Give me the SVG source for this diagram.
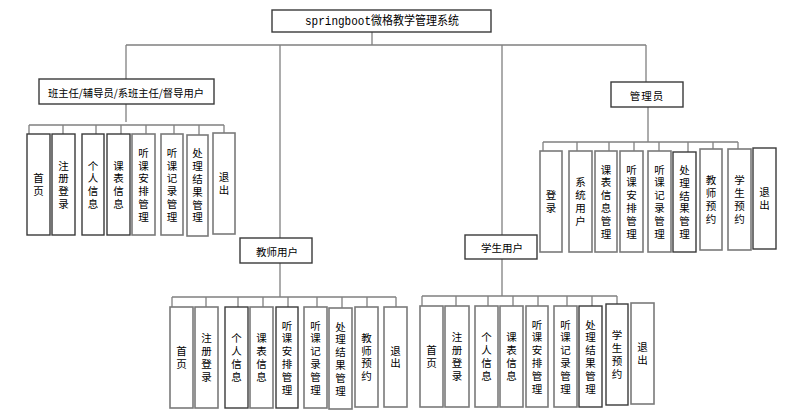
<svg xmlns="http://www.w3.org/2000/svg" width="798" height="420" viewBox="0 0 798 420">
<style>
.bg{fill:#fff}
.box{fill:#fff;stroke:#3a3a3a;stroke-width:1.4}
.gb{fill:#fff;stroke:#7a7a7a;stroke-width:1.6}
.ln{fill:none;stroke:#808080;stroke-width:1.3}
.t{font-family:"Noto Sans CJK SC","Liberation Sans",sans-serif;font-size:10.5px;fill:#000;text-anchor:middle;dominant-baseline:central}
.v{font-family:"Noto Sans CJK SC","Liberation Sans",sans-serif;font-size:10.5px;fill:#000;text-anchor:middle;writing-mode:vertical-rl;text-orientation:upright;letter-spacing:2.3px}
.title{font-family:"Liberation Mono","Noto Sans CJK SC",monospace;font-size:12px;fill:#000;dominant-baseline:central}
</style>
<rect class="bg" x="0" y="0" width="798" height="420"/>
<g id="connectors">
<path class="ln" d="M372 32V45M126 45H646M126 45V79M280 45V238M502 45V235M646 45V82"/>
<path class="ln" d="M126 104V122M29 125H224M29 125V134M63 125V134M96 125V134M121 125V134M146 125V134M174 125V134M199 125V135M224 125V133"/>
<path class="ln" d="M648 107V142M543 142H738M543 142V151M577 142V151M609 142V151M634 142V151M659 142V151M688 142V152M713 142V149M738 142V149"/>
<path class="ln" d="M280 263V297M172 297H396M172 297V307M206 297V307M238 297V307M263 297V307M288 297V307M317 297V307M342 297V308M367 297V307M396 297V307"/>
<path class="ln" d="M502 259V296M422 296H617M422 296V306M456 296V306M488 296V306M513 296V306M538 296V306M567 296V306M592 296V306M617 296V304"/>
</g>
<g id="root"><rect class="box" x="272" y="10" width="219" height="22"/><text class="title" x="305" y="21.5" textLength="154" lengthAdjust="spacingAndGlyphs">springboot微格教学管理系统</text></g>
<g id="headteacher"><rect class="box" x="39" y="79" width="175" height="25"/><text class="t" x="126" y="92" textLength="156" lengthAdjust="spacingAndGlyphs">班主任/辅导员/系班主任/督导用户</text></g>
<g id="admin"><rect class="box" x="611" y="82" width="72" height="25"/><text class="t" x="647" y="95" letter-spacing="1">管理员</text></g>
<g id="teacher"><rect class="box" x="240" y="238" width="72" height="25"/><text class="t" x="277" y="251">教师用户</text></g>
<g id="student"><rect class="box" x="465" y="235" width="72" height="24"/><text class="t" x="502" y="247">学生用户</text></g>

<!-- left group -->
<g id="l1"><rect class="box" x="27" y="134" width="23" height="101"/><text class="v" x="38.5" y="186">首页</text></g>
<g id="l2"><rect class="box" x="52" y="134" width="23" height="101"/><text class="v" x="63.5" y="186">注册登录</text></g>
<g id="l3"><rect class="box" x="82" y="134" width="22" height="101"/><text class="v" x="93" y="186">个人信息</text></g>
<g id="l4"><rect class="box" x="107" y="134" width="23" height="101"/><text class="v" x="118.5" y="186">课表信息</text></g>
<g id="l5"><rect class="gb" x="132" y="134" width="23" height="101"/><text class="v" x="143.5" y="186">听课安排管理</text></g>
<g id="l6"><rect class="gb" x="161" y="134" width="22" height="101"/><text class="v" x="172" y="186">听课记录管理</text></g>
<g id="l7"><rect class="gb" x="187" y="135" width="21" height="101"/><text class="v" x="197.5" y="186.5">处理结果管理</text></g>
<g id="l8"><rect class="gb" x="213" y="133" width="22" height="101"/><text class="v" x="224" y="184.5">退出</text></g>

<!-- admin group -->
<g id="a1"><rect class="gb" x="540" y="151" width="22" height="101"/><text class="v" x="551" y="202.7">登录</text></g>
<g id="a2"><rect class="gb" x="569" y="151" width="23" height="101"/><text class="v" x="580.5" y="202.7">系统用户</text></g>
<g id="a3"><rect class="gb" x="595" y="151" width="22" height="101"/><text class="v" x="606" y="202.7">课表信息管理</text></g>
<g id="a4"><rect class="gb" x="620" y="151" width="23" height="101"/><text class="v" x="631.5" y="202.7">听课安排管理</text></g>
<g id="a5"><rect class="gb" x="648" y="151" width="23" height="101"/><text class="v" x="659.5" y="202.7">听课记录管理</text></g>
<g id="a6"><rect class="box" x="673" y="152" width="23" height="100"/><text class="v" x="684.5" y="203.2">处理结果管理</text></g>
<g id="a7"><rect class="gb" x="700" y="149" width="22" height="101"/><text class="v" x="711" y="200.7">教师预约</text></g>
<g id="a8"><rect class="gb" x="728" y="149" width="23" height="101"/><text class="v" x="739.5" y="200.7">学生预约</text></g>
<g id="a9"><rect class="box" x="753" y="148" width="23" height="101"/><text class="v" x="764.5" y="199.7">退出</text></g>

<!-- teacher group -->
<g id="t1"><rect class="gb" x="170" y="307" width="23" height="101"/><text class="v" x="181.5" y="358.7">首页</text></g>
<g id="t2"><rect class="gb" x="195" y="307" width="23" height="101"/><text class="v" x="206.5" y="358.7">注册登录</text></g>
<g id="t3"><rect class="box" x="225" y="307" width="23" height="101"/><text class="v" x="236.5" y="358.7">个人信息</text></g>
<g id="t4"><rect class="gb" x="250" y="307" width="23" height="101"/><text class="v" x="261.5" y="358.7">课表信息</text></g>
<g id="t5"><rect class="box" x="276" y="307" width="22" height="101"/><text class="v" x="287" y="358.7">听课安排管理</text></g>
<g id="t6"><rect class="gb" x="304" y="307" width="23" height="101"/><text class="v" x="315.5" y="358.7">听课记录管理</text></g>
<g id="t7"><rect class="gb" x="329" y="308" width="23" height="101"/><text class="v" x="340.5" y="359.7">处理结果管理</text></g>
<g id="t8"><rect class="gb" x="355" y="307" width="23" height="100"/><text class="v" x="366.5" y="358.2">教师预约</text></g>
<g id="t9"><rect class="gb" x="384" y="307" width="23" height="100"/><text class="v" x="395.5" y="358.2">退出</text></g>

<!-- student group -->
<g id="s1"><rect class="gb" x="420" y="306" width="23" height="101"/><text class="v" x="431.5" y="357.7">首页</text></g>
<g id="s2"><rect class="gb" x="445" y="306" width="24" height="101"/><text class="v" x="457" y="357.7">注册登录</text></g>
<g id="s3"><rect class="gb" x="475" y="306" width="23" height="101"/><text class="v" x="486.5" y="357.7">个人信息</text></g>
<g id="s4"><rect class="gb" x="500" y="306" width="23" height="101"/><text class="v" x="511.5" y="357.7">课表信息</text></g>
<g id="s5"><rect class="gb" x="526" y="306" width="22" height="101"/><text class="v" x="537" y="357.7">听课安排管理</text></g>
<g id="s6"><rect class="gb" x="554" y="306" width="23" height="101"/><text class="v" x="565.5" y="357.7">听课记录管理</text></g>
<g id="s7"><rect class="box" x="579" y="306" width="23" height="101"/><text class="v" x="590.5" y="357.7">处理结果管理</text></g>
<g id="s8"><rect class="box" x="606" y="304" width="22" height="101"/><text class="v" x="617" y="355.7">学生预约</text></g>
<g id="s9"><rect class="gb" x="631" y="303" width="23" height="101"/><text class="v" x="642.5" y="354.7">退出</text></g>
</svg>
